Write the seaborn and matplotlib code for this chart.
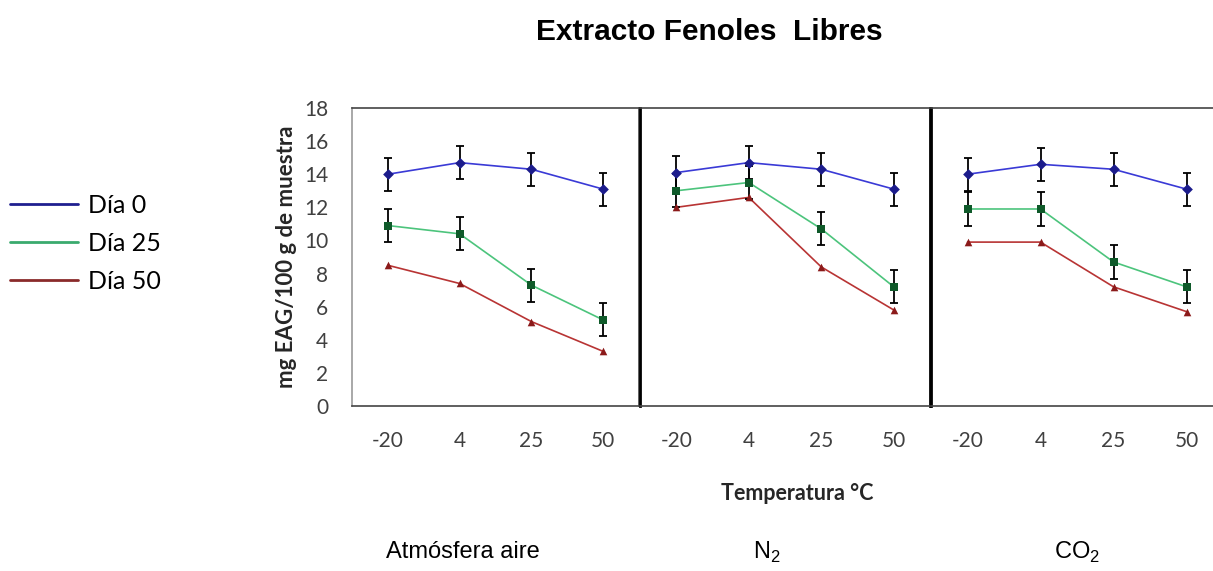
import numpy as np
import pandas as pd
import matplotlib
matplotlib.use("Agg")
import matplotlib.pyplot as plt
import seaborn as sns
from matplotlib.lines import Line2D

# 1. data
temps = ["-20", "4", "25", "50"]
panels = ["Atmósfera aire", "N$_2$", "CO$_2$"]
days = ["Día 0", "Día 25", "Día 50"]

aire_dia0 = [14.0, 14.7, 14.3, 13.1]
aire_dia25 = [10.9, 10.4, 7.3, 5.2]
aire_dia50 = [8.5, 7.4, 5.1, 3.3]

n2_dia0 = [14.1, 14.7, 14.3, 13.1]
n2_dia25 = [13.0, 13.5, 10.7, 7.2]
n2_dia50 = [12.0, 12.6, 8.4, 5.8]

co2_dia0 = [14.0, 14.6, 14.3, 13.1]
co2_dia25 = [11.9, 11.9, 8.7, 7.2]
co2_dia50 = [9.9, 9.9, 7.2, 5.7]

# error bars (sd) - red series shows none
err_dia0 = [1.0, 1.0, 1.0, 1.0]
err_dia25 = [1.0, 1.0, 1.0, 1.0]
err_dia50 = [0.0, 0.0, 0.0, 0.0]

values = {
    "Atmósfera aire": [aire_dia0, aire_dia25, aire_dia50],
    "N$_2$": [n2_dia0, n2_dia25, n2_dia50],
    "CO$_2$": [co2_dia0, co2_dia25, co2_dia50],
}
errors = [err_dia0, err_dia25, err_dia50]

# 2. long table
rows = []
for p in panels:
    for d, serie, err in zip(days, values[p], errors):
        for i, t in enumerate(temps):
            rows.append({"panel": p, "day": d, "pos": i, "temp": t,
                         "value": serie[i], "err": err[i]})
df = pd.DataFrame(rows)

line_cols = {"Día 0": "#3a3ad6", "Día 25": "#4cc47c", "Día 50": "#b83434"}
mark_cols = {"Día 0": "#1c1c8c", "Día 25": "#0f5a2a", "Día 50": "#8b1a1a"}
legend_cols = {"Día 0": "#1f1f8f", "Día 25": "#3aaa6e", "Día 50": "#8a2a2a"}
markers = {"Día 0": "D", "Día 25": "s", "Día 50": "^"}

sns.set_style("white")
plt.rcParams["font.family"] = ["Lato", "DejaVu Sans"]
plt.rcParams["text.color"] = "black"
plt.rcParams["mathtext.fontset"] = "custom"
plt.rcParams["mathtext.rm"] = "Liberation Sans"

fig = plt.figure(figsize=(12.13, 5.71), dpi=100)
W, H = 1213, 571
boxes = [(352, 639), (640, 930), (931, 1223)]
top_px, bot_px = 108, 406

for k, p in enumerate(panels):
    l, r = boxes[k]
    ax = fig.add_axes([l / W, 1 - bot_px / H, (r - l) / W, (bot_px - top_px) / H])
    sub = df[df["panel"] == p]
    sns.lineplot(data=sub, x="pos", y="value", hue="day", palette=line_cols,
                 linewidth=1.2, legend=False, ax=ax, zorder=2)
    for d in days:
        s = sub[sub["day"] == d]
        if s["err"].max() > 0:
            ax.errorbar(s["pos"], s["value"], yerr=s["err"], fmt="none",
                        ecolor="black", elinewidth=1.3, capsize=3, capthick=1.3, zorder=3)
        ax.scatter(s["pos"], s["value"], marker=markers[d], s=30,
                   color=mark_cols[d], zorder=4, linewidths=0)
    ax.set_xlim(-0.5, 3.5)
    ax.set_ylim(0, 18)
    ax.set_xticks(range(len(temps)))
    ax.set_xticklabels(temps, fontsize=15, color="#404040")
    ax.tick_params(axis="x", length=0, pad=18)
    ax.set_xlabel("")
    ax.set_ylabel("")
    if k == 0:
        ax.set_yticks(range(0, 19, 2))
        ax.tick_params(axis="y", length=0, pad=17, labelsize=15, labelcolor="#404040")
        ax.set_ylabel("mg EAG/100 g de muestra", fontsize=16, fontweight="bold",
                      color="#262626", labelpad=5)
    else:
        ax.set_yticks([])
    for sp in ax.spines.values():
        sp.set_color("#444444")
        sp.set_linewidth(1.2)
    if k == 0:
        ax.spines["left"].set_color("#999999")
    if k >= 1:
        ax.spines["left"].set_color("black")
        ax.spines["left"].set_linewidth(2)
    if k == 1:
        ax.spines["right"].set_color("black")
        ax.spines["right"].set_linewidth(2)

# panel captions and shared texts
caption_x = [463, 767, 1077]
for cx, p in zip(caption_x, panels):
    fig.text(cx / W, 1 - 552 / H, p, ha="center", va="center", fontsize=17,
             family=["Liberation Sans"])
fig.text(797 / W, 1 - 493 / H, "Temperatura °C", ha="center", va="center",
         fontsize=15.5, fontweight="bold", color="#262626")
fig.text(709 / W, 1 - 32 / H, "Extracto Fenoles  Libres", ha="center", va="center",
         fontsize=21.5, fontweight="bold", family=["Liberation Sans"])

handles = [Line2D([], [], color=legend_cols[d], lw=2) for d in days]
fig.legend(handles, days, loc="upper left", bbox_to_anchor=(0.0, 1 - 184 / H),
           frameon=False, fontsize=18, handlelength=2.7, handletextpad=0.4,
           labelspacing=0.6, borderaxespad=0)

fig.savefig("out.png", dpi=100)
